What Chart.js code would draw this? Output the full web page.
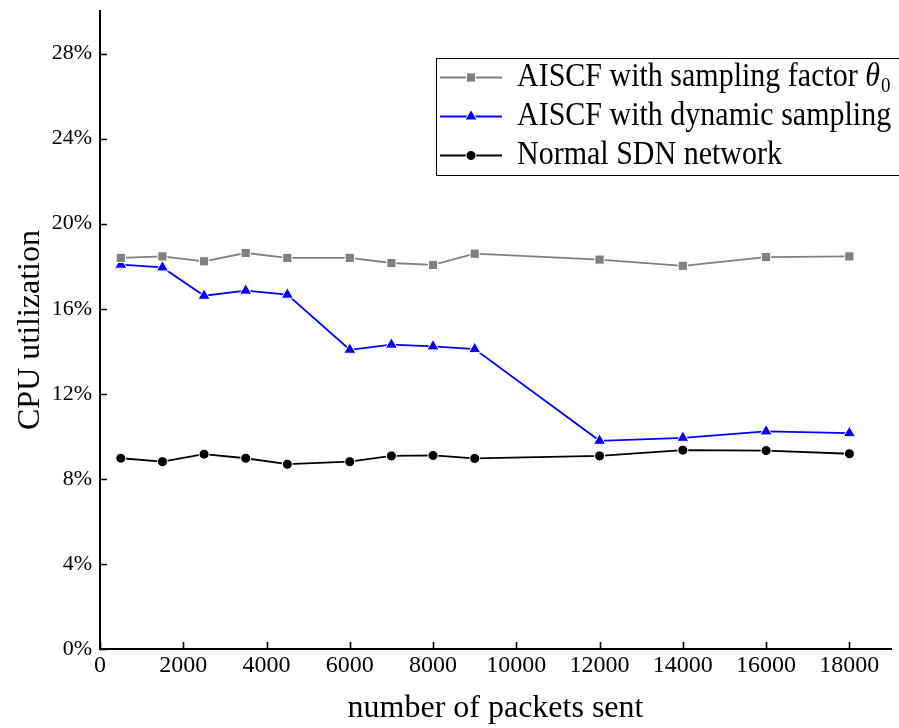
<!DOCTYPE html>
<html>
<head>
<meta charset="utf-8">
<script src="https://cdn.jsdelivr.net/npm/chart.js@4/dist/chart.umd.min.js"></script>
<style>
	html, body { margin: 0; padding: 0; background: #fff; }
	#wrap { width: 899px; height: 728px; }
</style>
</head>
<body>
<div id="wrap"><canvas id="chart" width="899" height="728"></canvas></div>
<script>
// packets sent (x) and CPU utilization in percent
const packets = [500, 1500, 2500, 3500, 4500, 6000, 7000, 8000, 9000, 12000, 14000, 16000, 18000];
const fixedFactor = [18.39, 18.46, 18.23, 18.62, 18.39, 18.39, 18.15, 18.06, 18.59, 18.31, 18.02, 18.43, 18.46];
const dynamicSampling = [18.07, 17.94, 16.61, 16.85, 16.66, 14.07, 14.31, 14.23, 14.10, 9.79, 9.93, 10.23, 10.15];
const normalSdn = [8.97, 8.81, 9.16, 8.97, 8.69, 8.81, 9.08, 9.10, 8.96, 9.08, 9.35, 9.33, 9.18];

const seriesNames = ['AISCF with sampling factor ', 'AISCF with dynamic sampling', 'Normal SDN network'];

const yTicks = [0, 4, 8, 12, 16, 20, 24, 28];
const xTicks = [0, 2000, 4000, 6000, 8000, 10000, 12000, 14000, 16000, 18000];

const serif = '"Liberation Serif", "Times New Roman", serif';

const points = (ys) => packets.map((x, i) => ({ x: x, y: ys[i] }));

const noEdgePadding = (scale) => {
	scale.paddingTop = 0;
	scale.paddingBottom = 0;
	scale.paddingLeft = 0;
	scale.paddingRight = 0;
};

// ticks point into the plot, so draw them by hand from the scales
const innerTicks = {
	id: 'innerTicks',
	afterDraw(chart) {
		const { ctx, chartArea, scales } = chart;
		ctx.save();
		ctx.strokeStyle = '#000';
		ctx.lineWidth = 1.6;
		ctx.beginPath();
		scales.y.ticks.forEach(t => {
			const py = Math.round(scales.y.getPixelForValue(t.value)) + 0.5;
			ctx.moveTo(chartArea.left, py);
			ctx.lineTo(chartArea.left + 7, py);
		});
		scales.x.ticks.forEach(t => {
			const px = Math.round(scales.x.getPixelForValue(t.value)) + 0.5;
			ctx.moveTo(px, chartArea.bottom);
			ctx.lineTo(px, chartArea.bottom - 7);
		});
		ctx.stroke();
		ctx.restore();
	}
};

// boxed legend in the upper right, with the theta_0 label
const boxLegend = {
	id: 'boxLegend',
	afterDraw(chart) {
		const ctx = chart.ctx;
		const box = { left: 436, top: 58, right: 905, bottom: 175 };
		const rows = [77.5, 116.5, 155.5];

		ctx.save();
		ctx.fillStyle = '#fff';
		ctx.fillRect(box.left, box.top, box.right - box.left, box.bottom - box.top);
		ctx.strokeStyle = '#000';
		ctx.lineWidth = 1;
		ctx.strokeRect(box.left + 0.5, box.top + 0.5, box.right - box.left, box.bottom - box.top);

		chart.data.datasets.forEach((ds, i) => {
			const y = rows[i];
			ctx.strokeStyle = ds.borderColor;
			ctx.lineWidth = ds.borderWidth;
			ctx.beginPath();
			ctx.moveTo(440, y);
			ctx.lineTo(502, y);
			ctx.stroke();

			ctx.fillStyle = ds.pointBackgroundColor;
			ctx.strokeStyle = '#fff';
			ctx.lineWidth = 1;
			Chart.helpers.drawPoint(ctx, {
				pointStyle: ds.pointStyle,
				radius: ds.pointRadius,
				rotation: 0,
				borderWidth: 1
			}, 471, y);

			// the figure's text is a little taller than Liberation Serif
			ctx.save();
			ctx.translate(517, y + 8);
			ctx.scale(1, 1.1);
			ctx.fillStyle = '#000';
			ctx.textBaseline = 'alphabetic';
			ctx.textAlign = 'left';
			ctx.font = '30px ' + serif;
			ctx.fillText(seriesNames[i], 0, 0);
			if (i === 0) {
				const w = ctx.measureText(seriesNames[i]).width;
				ctx.font = 'italic 30px ' + serif;
				ctx.fillText('\u03B8', w, 0);
				const tw = ctx.measureText('\u03B8').width;
				ctx.font = '19px ' + serif;
				ctx.fillText('0', w + tw + 1, 6);
			}
			ctx.restore();
		});
		ctx.restore();
	}
};

const ctx = document.getElementById('chart').getContext('2d');

new Chart(ctx, {
	type: 'line',
	data: {
		datasets: [
			{
				label: seriesNames[0],
				data: points(fixedFactor),
				borderColor: '#808080',
				backgroundColor: '#808080',
				pointBackgroundColor: '#808080',
				pointBorderColor: '#fff',
				pointBorderWidth: 1,
				pointStyle: 'rect',
				pointRadius: 6.5,
				borderWidth: 1.8
			},
			{
				label: seriesNames[1],
				data: points(dynamicSampling),
				borderColor: '#0000ff',
				backgroundColor: '#0000ff',
				pointBackgroundColor: '#0000ff',
				pointBorderColor: '#fff',
				pointBorderWidth: 1,
				pointStyle: 'triangle',
				pointRadius: 7,
				borderWidth: 1.8
			},
			{
				label: seriesNames[2],
				data: points(normalSdn),
				borderColor: '#000000',
				backgroundColor: '#000000',
				pointBackgroundColor: '#000000',
				pointBorderColor: '#fff',
				pointBorderWidth: 1,
				pointStyle: 'circle',
				pointRadius: 5,
				borderWidth: 1.8
			}
		]
	},
	options: {
		responsive: false,
		animation: false,
		layout: { padding: { top: 11, right: 8, left: 0, bottom: 0 } },
		plugins: {
			legend: { display: false },
			tooltip: { enabled: false }
		},
		elements: { line: { tension: 0 } },
		scales: {
			x: {
				type: 'linear',
				min: 0,
				max: 19000,
				afterBuildTicks: (scale) => { scale.ticks = xTicks.map(v => ({ value: v })); },
				afterFit: (scale) => { scale.height = 79; noEdgePadding(scale); },
				grid: { display: false, drawTicks: false },
				border: { display: true, color: '#000', width: 2 },
				ticks: {
					color: '#000',
					font: { family: serif, size: 24 },
					padding: 2,
					maxRotation: 0,
					autoSkip: false,
					callback: (v) => String(v)
				},
				title: {
					display: true,
					text: 'number of packets sent',
					color: '#000',
					font: { family: serif, size: 32 },
					padding: { top: 0, bottom: 0 }
				}
			},
			y: {
				type: 'linear',
				min: 0,
				max: 30,
				afterBuildTicks: (scale) => { scale.ticks = yTicks.map(v => ({ value: v })); },
				afterFit: (scale) => { scale.width = 100; noEdgePadding(scale); },
				grid: { display: false, drawTicks: false },
				border: { display: true, color: '#000', width: 2 },
				ticks: {
					color: '#000',
					font: { family: serif, size: 22 },
					padding: 8,
					autoSkip: false,
					callback: (v) => v + '%'
				},
				title: {
					display: true,
					text: 'CPU utilization',
					color: '#000',
					font: { family: serif, size: 32 },
					padding: { top: 11, bottom: 0 }
				}
			}
		}
	},
	plugins: [innerTicks, boxLegend]
});
</script>
</body>
</html>
